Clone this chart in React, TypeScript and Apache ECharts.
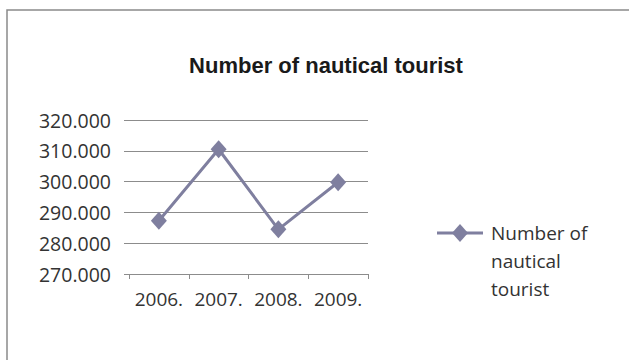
import React, { useEffect, useRef } from "react";
import * as echarts from "echarts";

const categories = ["2006.", "2007.", "2008.", "2009."];
const seriesName = "Number of nautical tourist";
const values = [287300, 310500, 284500, 299800];
const yMin = 270000;
const yMax = 320000;
const yInterval = 10000;
const titleText = "Number of nautical tourist";
const legendLines = ["Number of", "nautical", "tourist"];

const LINE_COLOR = "#7f7f9f";
const TEXT_COLOR = "#333333";
const FONT = "'Open Sans', 'Noto Sans', sans-serif";

export default function App() {
  const ref = useRef<HTMLDivElement>(null);
  useEffect(() => {
    if (!ref.current) return;
    const chart = echarts.init(ref.current, undefined, { renderer: "svg" });
    chart.setOption({
      animation: false,
      backgroundColor: "#ffffff",
      title: {
        text: titleText,
        left: 321,
        textAlign: "center",
        top: 49,
        textStyle: {
          fontFamily: "'Liberation Sans', Arial, sans-serif",
          fontWeight: "bold",
          fontSize: 22,
          color: "#1a1a1a",
        },
      },
      grid: { left: 129, right: 261, top: 120, bottom: 86, containLabel: false },
      xAxis: {
        type: "category",
        data: categories,
        boundaryGap: true,
        axisLine: { show: true, lineStyle: { color: "#8c8c8c", width: 1 } },
        axisTick: { show: true, length: 5, interval: 0, lineStyle: { color: "#8c8c8c" } },
        axisLabel: {
          color: TEXT_COLOR,
          fontFamily: FONT,
          fontSize: 19,
          margin: 15,
          interval: 0,
          hideOverlap: false,
        },
        splitLine: { show: false },
      },
      yAxis: {
        type: "value",
        min: yMin,
        max: yMax,
        interval: yInterval,
        axisLine: { show: false },
        axisTick: { show: true, length: 5, inside: false, lineStyle: { color: "#8c8c8c" } },
        axisLabel: {
          color: TEXT_COLOR,
          fontFamily: FONT,
          fontSize: 19.5,
          margin: 18,
          formatter: (v: number) => `${Math.round(v / 1000)}.000`,
        },
        splitLine: { show: true, lineStyle: { color: "#8c8c8c", width: 1 } },
      },
      series: [
        {
          name: seriesName,
          type: "line",
          data: values,
          symbol: "diamond",
          symbolSize: [16, 18],
          lineStyle: { color: LINE_COLOR, width: 3 },
          itemStyle: { color: LINE_COLOR },
        },
      ],
      graphic: [
        {
          type: "rect",
          shape: { x: 7, y: 10, width: 700, height: 400 },
          style: { fill: "none", stroke: "#8a8a8a", lineWidth: 1.5 },
          silent: true,
        },
        {
          type: "line",
          shape: { x1: 437, y1: 233, x2: 483, y2: 233 },
          style: { stroke: LINE_COLOR, lineWidth: 3 },
        },
        {
          type: "polygon",
          shape: { points: [[460, 224], [468, 233], [460, 242], [452, 233]] },
          style: { fill: LINE_COLOR },
        },
        {
          type: "text",
          x: 491,
          y: 219,
          style: {
            text: legendLines.join("\n"),
            fontFamily: FONT,
            fontSize: 19,
            lineHeight: 28,
            fill: TEXT_COLOR,
          },
        },
      ],
    });
    return () => chart.dispose();
  }, []);
  return (
    <div
      ref={ref}
      style={{ position: "fixed", left: 0, top: 0, width: 629, height: 360 }}
    />
  );
}
